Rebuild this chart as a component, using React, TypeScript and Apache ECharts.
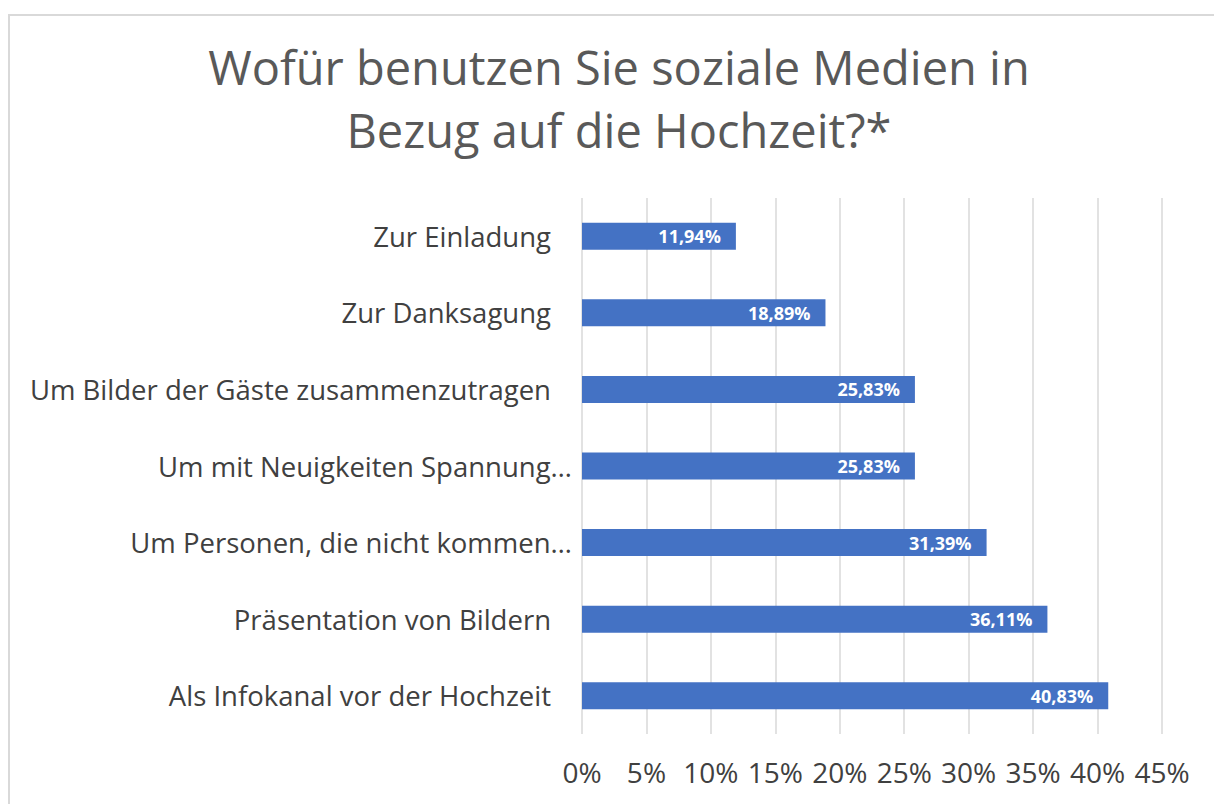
import React, { useEffect, useRef } from "react";
import * as echarts from "echarts";

const titleLines = ["Wofür benutzen Sie soziale Medien in", "Bezug auf die Hochzeit?*"];
const categories = [
  "Zur Einladung",
  "Zur Danksagung",
  "Um Bilder der Gäste zusammenzutragen",
  "Um mit Neuigkeiten Spannung…",
  "Um Personen, die nicht kommen…",
  "Präsentation von Bildern",
  "Als Infokanal vor der Hochzeit",
];
const values = [11.94, 18.89, 25.83, 25.83, 31.39, 36.11, 40.83];
const axisMin = 0;
const axisMax = 45;
const axisStep = 5;

const FONT = "'Open Sans', 'Noto Sans', sans-serif";

export default function App() {
  const ref = useRef<HTMLDivElement>(null);
  useEffect(() => {
    if (!ref.current) return;
    const chart = echarts.init(ref.current, null, { renderer: "svg" });
    chart.setOption({
      animation: false,
      backgroundColor: "#ffffff",
      title: {
        text: titleLines.join("\n"),
        left: 614,
        textAlign: "center",
        top: 30,
        textStyle: {
          fontFamily: FONT,
          fontSize: 47,
          fontWeight: "normal",
          color: "#595959",
          lineHeight: 63,
        },
      },
      graphic: [
        {
          type: "rect",
          shape: { x: 9, y: 15, width: 1400, height: 1000 },
          style: { fill: "none", stroke: "#d9d9d9", lineWidth: 2 },
          silent: true,
        },
      ],
      grid: { left: 582, right: 52, top: 198, bottom: 70, containLabel: false },
      xAxis: {
        type: "value",
        min: axisMin,
        max: axisMax,
        interval: axisStep,
        axisLine: { show: false },
        axisTick: { show: false },
        splitLine: { show: true, lineStyle: { color: "#d9d9d9", width: 1.5 } },
        axisLabel: {
          formatter: (v: number) => `${v}%`,
          fontFamily: FONT,
          fontSize: 28,
          color: "#404040",
          margin: 24,
        },
      },
      yAxis: {
        type: "category",
        data: categories,
        inverse: true,
        axisLine: { show: false },
        axisTick: { show: false },
        axisLabel: {
          fontFamily: FONT,
          fontSize: 27.5,
          color: "#404040",
          margin: 10,
          formatter: (v: string) => (v.endsWith("…") ? `{t|${v}}` : `{n|${v}}`),
          rich: {
            t: { fontFamily: FONT, fontSize: 27.5, color: "#404040", padding: [0, 0, 0, 0] },
            n: { fontFamily: FONT, fontSize: 27.5, color: "#404040", padding: [0, 21, 0, 0] },
          },
        },
      },
      series: [
        {
          type: "bar",
          data: values,
          barWidth: 27,
          itemStyle: { color: "#4472C4" },
          label: {
            show: true,
            position: "insideRight",
            distance: 15,
            formatter: (p: any) => `${p.value.toFixed(2).replace(".", ",")}%`,
            fontFamily: FONT,
            fontSize: 18,
            fontWeight: "bold",
            color: "#ffffff",
          },
        },
      ],
    });
    return () => chart.dispose();
  }, []);
  return (
    <div
      ref={ref}
      style={{ position: "fixed", left: 0, top: 0, width: 1214, height: 804 }}
    />
  );
}
